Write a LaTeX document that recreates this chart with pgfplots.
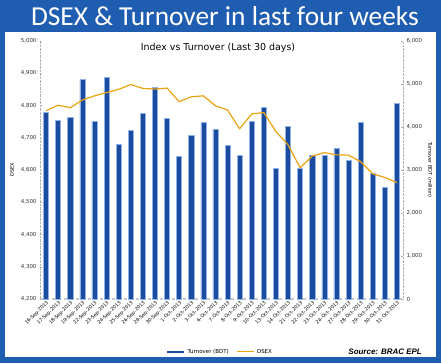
\documentclass[border=0pt]{standalone}
\usepackage{fontspec}
\setmainfont{DejaVu Sans}
\newfontfamily\titlefont{Carlito}
\newfontfamily\srcfont{Liberation Sans}
\usepackage{pgfplots}
\pgfplotsset{compat=1.18}
\definecolor{frameblue}{HTML}{1F5DB0}
\definecolor{barblue}{HTML}{1C4C9E}
\definecolor{baredge}{HTML}{8FB2EA}
\definecolor{dsexorange}{HTML}{EBA310}
\definecolor{axgray}{HTML}{B0B0B0}

\pgfplotstableread{
x turnover dsex
0  4337 4784
1  4151 4801
2  4221 4793
3  5105 4817
4  4128 4830
5  5151 4840
6  3593 4850
7  3919 4865
8  4314 4853
9  4919 4851
10 4198 4854
11 3314 4812
12 3802 4827
13 4105 4830
14 3942 4799
15 3570 4786
16 3337 4728
17 4128 4774
18 4453 4778
19 3035 4719
20 4012 4678
21 3035 4607
22 3337 4643
23 3337 4654
24 3500 4647
25 3221 4646
26 4105 4626
27 2919 4588
28 2593 4577
29 4547 4561
}\datatable

\begin{document}
\begin{tikzpicture}[x=1bp,y=1bp]
\fill[frameblue] (0,0) rectangle (441,363);
\fill[white] (5,6) rectangle (436,331);
\node[text=white, anchor=base, inner sep=0pt, font=\titlefont\fontsize{27.5}{28}\selectfont] at (225,338) {DSEX \& Turnover in last four weeks};

\pgfplotsset{
  common/.style={
    at={(40bp,64bp)}, anchor=south west, scale only axis,
    width=363bp, height=258bp, xmin=-0.5, xmax=29.5,
    scaled y ticks=false,
    /pgf/number format/assume math mode=true,
    yticklabel style={font=\fontsize{5.5}{6}\selectfont, text=black!80},
    axis line style={axgray, densely dotted},
    tick style={axgray, thin},
    major tick length=2bp,
  }
}

\begin{axis}[common,
  axis y line*=right, axis x line*=bottom,
  ymin=0, ymax=6000, ytick={0,1000,...,6000},
  x axis line style={axgray!70, dashed, line width=1.5bp},
  xtick={0,...,29},
  xtick style={draw=none},
  xticklabels={16-Sep-2013,17-Sep-2013,18-Sep-2013,19-Sep-2013,22-Sep-2013,23-Sep-2013,24-Sep-2013,25-Sep-2013,26-Sep-2013,29-Sep-2013,30-Sep-2013,1-Oct-2013,2-Oct-2013,3-Oct-2013,6-Oct-2013,7-Oct-2013,8-Oct-2013,9-Oct-2013,10-Oct-2013,13-Oct-2013,14-Oct-2013,21-Oct-2013,22-Oct-2013,23-Oct-2013,24-Oct-2013,27-Oct-2013,28-Oct-2013,29-Oct-2013,30-Oct-2013,31-Oct-2013},
  xticklabel style={rotate=45, anchor=north east, font=\fontsize{4.8}{5}\selectfont, inner sep=1bp},
  ylabel={Turnover BDT (million)},
  ylabel style={at={(axis description cs:1.074,0.5)}, anchor=center, rotate=180, font=\fontsize{5}{5}\selectfont},
]
\addplot[ybar, bar width=0.42, fill=barblue, draw=baredge, line width=0.5bp] table[x=x, y=turnover] {\datatable};
\end{axis}

\begin{axis}[common,
  axis y line*=left, axis x line=none,
  ymin=4200, ymax=5000, ytick={4200,4300,...,5000},
  ylabel={DSEX},
  ylabel style={at={(axis description cs:-0.077,0.5)}, anchor=center, font=\fontsize{5}{5}\selectfont},
  legend style={at={(0.496,-0.205)}, anchor=center, draw=none, fill=none,
    font=\fontsize{5.5}{6}\selectfont, legend columns=2,
    /tikz/every even column/.append style={column sep=6bp}},
  legend cell align=left,
]
\addlegendimage{barblue, line width=2.5bp}
\addlegendentry{Turnover (BDT)}
\addplot[dsexorange, line width=1.2bp, no marks] table[x=x, y=dsex] {\datatable};
\addlegendentry{DSEX}
\end{axis}

\node[font=\fontsize{9.5}{10}\selectfont, anchor=center] at (218,315) {Index vs Turnover (Last 30 days)};
\node[font=\srcfont\bfseries\itshape\fontsize{8}{8}\selectfont, anchor=east, inner sep=0pt] at (422,11) {Source: BRAC EPL};
\end{tikzpicture}
\end{document}
